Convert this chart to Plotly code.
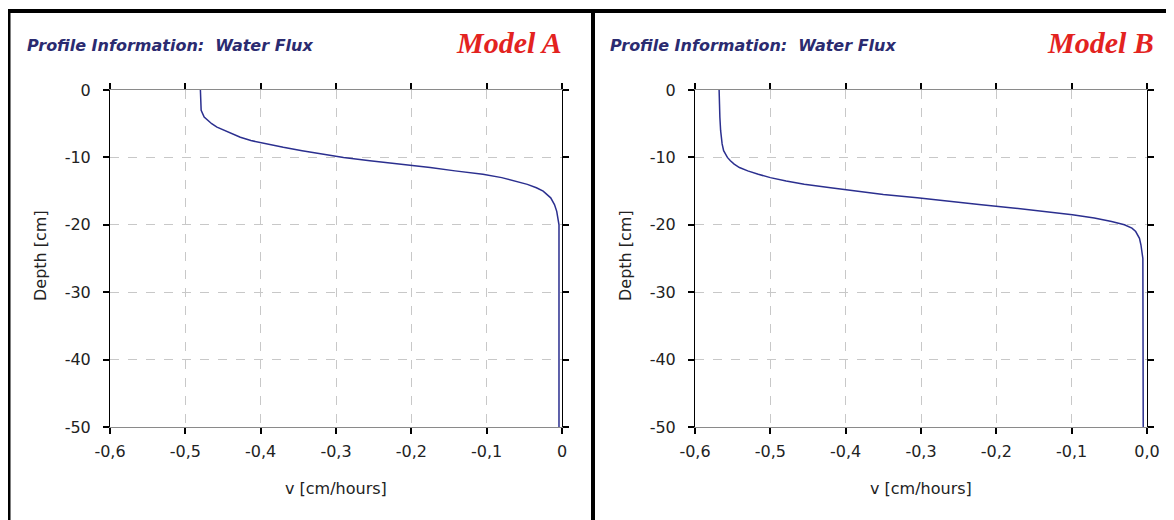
import plotly.graph_objects as go

# ---- data ----
depth_a = [0, -1, -2, -3, -4, -5, -5.5, -6, -6.5, -7, -7.5, -8, -8.5, -9, -9.5, -10,
           -10.5, -11, -11.5, -12, -12.5, -13, -13.5, -14, -14.5, -15, -16, -17, -18,
           -19, -20, -50]
flux_a = [-0.480, -0.480, -0.480, -0.479, -0.475, -0.465, -0.458, -0.448, -0.437, -0.427,
          -0.413, -0.393, -0.370, -0.345, -0.318, -0.290, -0.255, -0.210, -0.175, -0.142,
          -0.105, -0.080, -0.062, -0.046, -0.034, -0.025, -0.015, -0.010, -0.007, -0.005,
          -0.004, -0.004]

depth_b = [0, -2, -4, -6, -8, -9, -10, -10.5, -11, -11.5, -12, -12.5, -13, -13.5, -14,
           -14.5, -15, -15.5, -16, -16.5, -17, -17.5, -18, -18.5, -19, -19.5, -20, -20.5,
           -21, -22, -23, -24, -25, -50]
flux_b = [-0.568, -0.568, -0.567, -0.566, -0.564, -0.562, -0.557, -0.553, -0.548, -0.541,
          -0.530, -0.516, -0.500, -0.479, -0.455, -0.420, -0.385, -0.350, -0.305, -0.268,
          -0.223, -0.178, -0.135, -0.099, -0.070, -0.047, -0.030, -0.020, -0.015, -0.010,
          -0.008, -0.0065, -0.0055, -0.005]

x_ticks = [-0.6, -0.5, -0.4, -0.3, -0.2, -0.1, 0]
x_labels_a = ["-0,6", "-0,5", "-0,4", "-0,3", "-0,2", "-0,1", "0"]
x_labels_b = ["-0,6", "-0,5", "-0,4", "-0,3", "-0,2", "-0,1", "0,0"]
y_ticks = [0, -10, -20, -30, -40, -50]
y_labels = ["0", "-10", "-20", "-30", "-40", "-50"]

# the page body keeps an 8px margin, so the figure is made smaller and shifted
OFF = 8
W, H = 1174 - OFF, 520 - OFF
LINE = "#2b2f8f"
NAVY = "#2b2b70"
TICK_FONT = dict(family="DejaVu Sans", size=16, color="#222222")


def px_x(p):
    return (p - OFF) / W


def px_y(p):
    return 1 - (p - OFF) / H


fig = go.Figure()
fig.add_trace(go.Scatter(x=flux_a, y=depth_a, mode="lines", line=dict(color=LINE, width=1.5),
                         xaxis="x", yaxis="y", showlegend=False))
fig.add_trace(go.Scatter(x=flux_b, y=depth_b, mode="lines", line=dict(color=LINE, width=1.5),
                         xaxis="x2", yaxis="y2", showlegend=False))

plot_top, plot_bot = 90, 427
# main x, main y, then overlay axes for the inner halves of the crossing ticks
panels = [
    dict(x="x", y="y", xo="x3", yo="y3", left=110, right=562, xlab=x_labels_a),
    dict(x="x2", y="y2", xo="x4", yo="y4", left=695, right=1147, xlab=x_labels_b),
]

tick_style = dict(ticklen=6, tickwidth=2, tickcolor="black", fixedrange=True)


def key(name):
    return ("xaxis" if name[0] == "x" else "yaxis") + name[1:]


layout = {}
for p in panels:
    xdom = [px_x(p["left"]), px_x(p["right"])]
    ydom = [px_y(plot_bot), px_y(plot_top)]
    layout[key(p["x"])] = dict(domain=xdom, anchor=p["y"], range=[-0.6, 0], tickvals=x_ticks,
                               ticktext=p["xlab"], ticks="outside", mirror="ticks",
                               showline=True, linecolor="#8a8a8a", linewidth=1,
                               showgrid=True, gridcolor="#c8c8c8", griddash="dash", gridwidth=1,
                               zeroline=False, tickfont=TICK_FONT, ticklabelstandoff=4,
                               automargin=False, **tick_style)
    layout[key(p["y"])] = dict(domain=ydom, anchor=p["x"], range=[-50, 0], tickvals=y_ticks,
                               ticktext=y_labels, ticks="outside", mirror="ticks",
                               showline=True, linecolor="black", linewidth=1,
                               showgrid=True, gridcolor="#c8c8c8", griddash="dash", gridwidth=1,
                               zeroline=False, tickfont=TICK_FONT, ticklabelstandoff=9,
                               automargin=False, **tick_style)
    # black bottom line and inner ticks
    layout[key(p["xo"])] = dict(overlaying=p["x"], anchor=p["y"], range=[-0.6, 0], tickvals=x_ticks,
                                ticks="inside", mirror="ticks", showline=True, linecolor="black",
                                linewidth=1, showgrid=False, zeroline=False, showticklabels=False,
                                **tick_style)
    layout[key(p["yo"])] = dict(overlaying=p["y"], anchor=p["x"], range=[-50, 0], tickvals=y_ticks,
                                ticks="inside", mirror="ticks", showline=False, showgrid=False,
                                zeroline=False, showticklabels=False, **tick_style)

annotations = []
for left, right, model, title_x, model_x in [(110, 562, "Model A", 25, 564), (695, 1147, "Model B", 608, 1156)]:
    annotations.append(dict(text="<b><i>Profile Information:  Water Flux</i></b>", x=px_x(title_x),
                            y=px_y(45), xref="paper", yref="paper", xanchor="left", yanchor="middle",
                            showarrow=False, font=dict(family="DejaVu Sans", size=16, color=NAVY)))
    annotations.append(dict(text="<b><i>" + model + "</i></b>", x=px_x(model_x),
                            y=px_y(42), xref="paper", yref="paper", xanchor="right", yanchor="middle",
                            showarrow=False, font=dict(family="Liberation Serif", size=30, color="#e3231f")))
    annotations.append(dict(text="v [cm/hours]", x=px_x((left + right) / 2), y=px_y(488),
                            xref="paper", yref="paper", xanchor="center", yanchor="middle",
                            showarrow=False, font=TICK_FONT))
    annotations.append(dict(text="Depth [cm]", x=px_x(left - 70), y=px_y(256), textangle=-90,
                            xref="paper", yref="paper", xanchor="center", yanchor="middle",
                            showarrow=False, font=TICK_FONT))

# black frame round the two panels
frame = dict(type="line", xref="paper", yref="paper", line=dict(color="black", width=4))
shapes = [
    dict(frame, x0=px_x(8.5), x1=px_x(8.5), y0=px_y(11), y1=0),
    dict(frame, x0=px_x(8), x1=px_x(1172), y0=px_y(11), y1=px_y(11)),
    dict(frame, x0=px_x(593), x1=px_x(593), y0=px_y(11), y1=0),
    dict(type="line", xref="paper", yref="paper", x0=px_x(1172), x1=px_x(1172), y0=px_y(11), y1=0,
         line=dict(color="#d0d0d0", width=1)),
]

fig.update_layout(
    width=W, height=H,
    margin=dict(l=0, r=0, t=0, b=0),
    paper_bgcolor="white", plot_bgcolor="white",
    annotations=annotations, shapes=shapes,
    showlegend=False,
    **layout,
)

fig.write_html("out.html")
